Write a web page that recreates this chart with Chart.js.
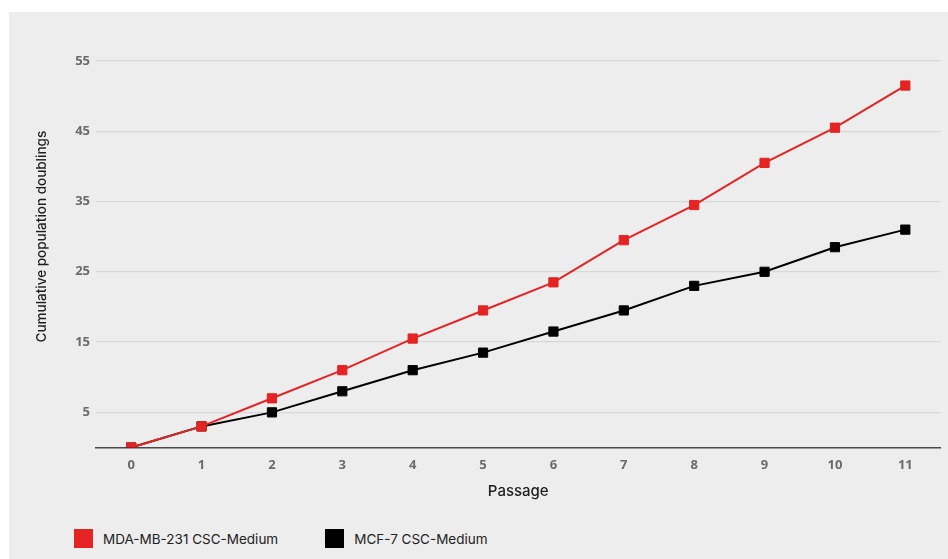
<!DOCTYPE html>
<html>
<head>
<meta charset="utf-8">
<script src="https://cdn.jsdelivr.net/npm/chart.js@4/dist/chart.umd.min.js"></script>
<style>
  html, body { margin: 0; padding: 0; background: #ffffff; }
  .panel {
    position: absolute; left: 9px; top: 12px;
    width: 939px; height: 547px;
    background: #ededed;
  }
  #growthChart { position: absolute; left: 0; top: 0; }
  .legend {
    position: absolute; left: 65px; top: 517px;
    display: flex; font-family: Inter, 'Noto Sans', sans-serif;
    font-size: 13.5px; color: #222;
  }
  .legend .item { display: flex; align-items: center; }
  .legend .swatch { width: 19px; height: 19px; margin-right: 10px; }
  .legend .item + .item { margin-left: 47px; }
</style>
</head>
<body>
<div class="panel">
  <canvas id="growthChart" width="939" height="500"></canvas>
  <div class="legend" id="legend"></div>
</div>
<script>
  // passage number on x, cumulative doublings on y
  const passages = ['0', '1', '2', '3', '4', '5', '6', '7', '8', '9', '10', '11'];
  const mdaValues = [0, 3, 7, 11, 15.5, 19.5, 23.5, 29.5, 34.5, 40.5, 45.5, 51.5];
  const mcfValues = [0, 3, 5, 8, 11, 13.5, 16.5, 19.5, 23, 25, 28.5, 31];
  const yTicks = [5, 15, 25, 35, 45, 55];

  const RED = '#e42322';
  const BLACK = '#000000';
  const tickFont = { family: "'Open Sans', sans-serif", size: 13, weight: '700' };

  const ctx = document.getElementById('growthChart').getContext('2d');
  const chart = new Chart(ctx, {
    type: 'line',
    data: {
      labels: passages,
      datasets: [
        {
          label: 'MDA-MB-231 CSC-Medium',
          data: mdaValues,
          borderColor: RED,
          backgroundColor: RED,
          borderWidth: 2,
          pointStyle: 'rect',
          pointRadius: 6.5,
          pointBorderWidth: 1,
          pointBackgroundColor: RED,
          pointBorderColor: RED,
          tension: 0,
        },
        {
          label: 'MCF-7 CSC-Medium',
          data: mcfValues,
          borderColor: BLACK,
          backgroundColor: BLACK,
          borderWidth: 2,
          pointStyle: 'rect',
          pointRadius: 6.5,
          pointBorderWidth: 1,
          pointBackgroundColor: BLACK,
          pointBorderColor: BLACK,
          tension: 0,
        },
      ],
    },
    options: {
      responsive: false,
      animation: false,
      layout: { padding: { left: 21, right: 7, top: 11, bottom: 8 } },
      plugins: {
        legend: { display: false },
        tooltip: { enabled: false },
      },
      scales: {
        x: {
          offset: true,
          grid: { display: false, drawTicks: false },
          border: { display: true, color: '#4a4a4a', width: 1.5 },
          ticks: { color: '#6b6b6b', font: tickFont, padding: 10, maxRotation: 0 },
          title: {
            display: true,
            text: 'Passage',
            color: '#1e1e1e',
            font: { family: 'Inter, sans-serif', size: 15, weight: '500' },
            padding: { top: 4, bottom: 4 },
          },
          afterFit: (scale) => { scale.height = 56.5; },
        },
        y: {
          min: 0,
          max: 60,
          grid: { color: 'rgba(0,0,0,0.085)', lineWidth: 1.3, drawTicks: false },
          border: { display: false },
          ticks: { color: '#6b6b6b', font: tickFont, padding: 6 },
          afterBuildTicks: (scale) => { scale.ticks = yTicks.map((v) => ({ value: v })); },
          title: {
            display: true,
            text: 'Cumulative population doublings',
            color: '#1e1e1e',
            font: { family: 'Inter, sans-serif', size: 13.5, weight: '500' },
            padding: { top: 4, bottom: 4 },
          },
          afterFit: (scale) => { scale.width = 66; },
        },
      },
    },
  });

  // html legend built from the chart's datasets
  const legendEl = document.getElementById('legend');
  chart.data.datasets.forEach((ds) => {
    const item = document.createElement('div');
    item.className = 'item';
    const sw = document.createElement('span');
    sw.className = 'swatch';
    sw.style.background = ds.borderColor;
    const txt = document.createElement('span');
    txt.textContent = ds.label;
    item.appendChild(sw);
    item.appendChild(txt);
    legendEl.appendChild(item);
  });
</script>
</body>
</html>
